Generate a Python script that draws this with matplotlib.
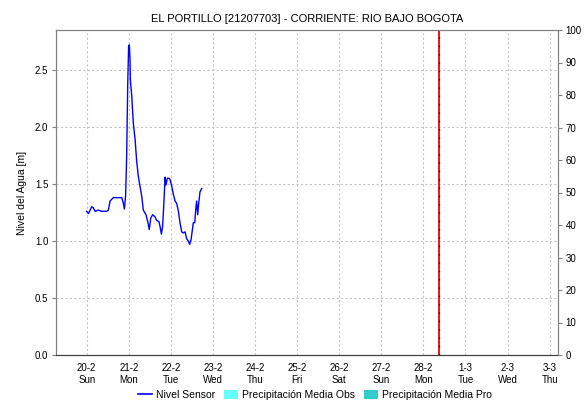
import datetime as dt
import matplotlib
matplotlib.use("Agg")
import matplotlib.pyplot as plt
from matplotlib.lines import Line2D
from matplotlib.patches import Patch
import pandas as pd

plt.rcParams["font.family"] = ["Liberation Sans", "DejaVu Sans"]

# serie del sensor: horas desde 20-2 00:00 y nivel [m]
inicio = dt.datetime(2022, 2, 20)
horas = [0.0, 1.0, 2.9, 3.8, 4.8, 6.7, 8.6, 11.4, 12.4, 13.3, 15.2, 20.0, 20.9,
         21.5, 22.2, 22.8, 23.4, 23.9, 24.3, 24.7, 24.9, 25.7, 26.6, 27.6, 28.5,
         29.5, 30.4, 31.4, 32.3, 33.8, 34.8, 35.7, 36.5, 37.6, 39.0, 39.9, 41.2,
         41.8, 42.6, 43.3, 44.1, 44.7, 45.2, 46.0, 46.9, 47.5, 48.5, 49.4, 50.4,
         51.3, 52.3, 53.2, 54.2, 55.1, 56.1, 57.0, 58.0, 58.7, 59.5, 60.2, 60.8,
         61.6, 62.1, 62.7, 63.3, 63.8, 64.6, 65.6]
nivel = [1.26, 1.24, 1.30, 1.29, 1.26, 1.27, 1.26, 1.26, 1.27, 1.35, 1.38, 1.38,
         1.33, 1.28, 1.40, 1.75, 2.38, 2.70, 2.72, 2.60, 2.41, 2.27, 2.03, 1.89,
         1.70, 1.56, 1.48, 1.39, 1.27, 1.23, 1.17, 1.10, 1.20, 1.23, 1.21, 1.18,
         1.17, 1.13, 1.06, 1.13, 1.36, 1.56, 1.49, 1.55, 1.55, 1.54, 1.48, 1.41,
         1.35, 1.33, 1.26, 1.16, 1.08, 1.07, 1.08, 1.02, 1.00, 0.97, 1.01, 1.09,
         1.16, 1.16, 1.26, 1.35, 1.23, 1.32, 1.43, 1.46]

tiempo = [inicio + dt.timedelta(hours=h) for h in horas]
ahora = dt.datetime(2022, 2, 28, 9, 0)
dias = pd.date_range("2022-02-20", "2022-03-03", freq="D")
etiquetas = [f"{d.day}-{d.month}\n{d.strftime('%a')}" for d in dias]

fig = plt.figure(figsize=(5.88, 4.05), dpi=100)
ax = fig.add_axes([56 / 588, 1 - 355 / 405, 502 / 588, 325 / 405])
ax2 = ax.twinx()

ax.plot(tiempo, nivel, color="#0000ff", lw=1.0, zorder=3)
ax.axvline(ahora, color="#e8141e", lw=1.4, zorder=4)
ax.axvline(ahora, color="#600000", lw=1.0, linestyle=(0, (1, 5)), zorder=5)

ax.set_xlim(dt.datetime(2022, 2, 19, 6, 30), dt.datetime(2022, 3, 3, 4, 45))
ax.set_ylim(0, 2.85)
ax.set_yticks([0.0, 0.5, 1.0, 1.5, 2.0, 2.5])
ax.yaxis.set_major_formatter(plt.FuncFormatter(lambda v, p: f"{v:.1f}"))
ax2.set_ylim(0, 100)
ax2.set_yticks(range(0, 101, 10))

ax.set_xticks(dias)
ax.set_xticklabels(etiquetas)

ax.grid(True, color="#c4c4c4", linestyle=(0, (2, 2)), lw=0.8)
ax.set_axisbelow(True)

for a in (ax, ax2):
    for s in ("top", "left", "right"):
        a.spines[s].set_color("#808080")
    a.spines["bottom"].set_color("#404040")
    a.spines["bottom"].set_linestyle((0, (1, 1)))
ax.tick_params(axis="x", length=0, pad=6, labelsize=7)
ax.tick_params(axis="y", length=3, pad=2.5, color="#808080", labelsize=7)
ax2.tick_params(axis="y", length=3, pad=2.5, color="#808080", labelsize=7)

ax.set_ylabel("Nivel del Agua [m]", fontsize=7.5, labelpad=6)
ax.set_title("EL PORTILLO [21207703] - CORRIENTE: RIO BAJO BOGOTA", fontsize=8, pad=6)

handles = [Line2D([], [], color="#0000ff", lw=1.2),
           Patch(facecolor="#66ffff"),
           Patch(facecolor="#33cccc")]
fig.legend(handles, ["Nivel Sensor", "Precipitación Media Obs", "Precipitación Media Pro"],
           loc="center", bbox_to_anchor=(315 / 588, 0.025), ncol=3, frameon=False,
           fontsize=7.5, handlelength=1.3, handleheight=1.0, handletextpad=0.4,
           columnspacing=0.9)

fig.savefig("out.png", dpi=100)
